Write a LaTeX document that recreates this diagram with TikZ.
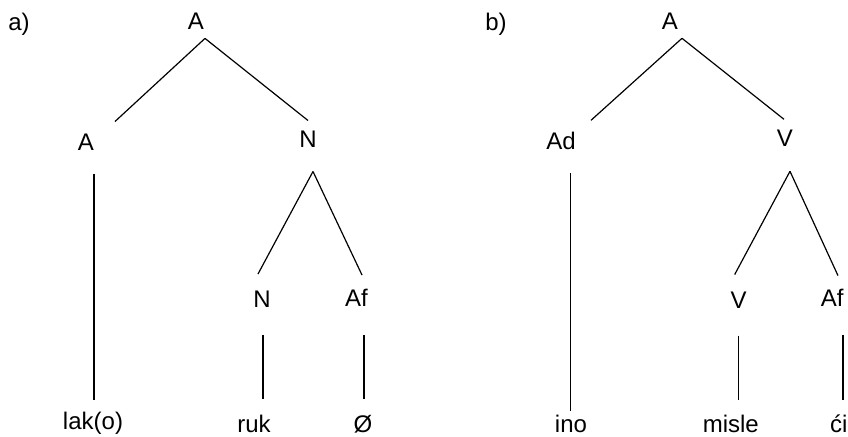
\documentclass[tikz,border=0pt]{standalone}
\usepackage{fontspec}
\setmainfont{Liberation Sans}
\usetikzlibrary{calc}
\tikzset{cat node/.style={font=\fontsize{12}{14}\selectfont,inner sep=0pt,text height=8.6pt,text depth=0pt},
leaf node/.style={cat node,anchor=base},
tree line/.style={line width=0.6pt}}

\begin{document}
\begin{tikzpicture}[x=0.5pt,y=-0.5pt]
\useasboundingbox (0,0) rectangle (848,436);
% a)
\node[cat node] (la) at (19,22) {a)};
\node[cat node] (ar) at (196,21) {A};
\node[cat node] (aa) at (86,141.5) {A};
\node[cat node] (an) at (308,138.5) {N};
\node[cat node] (an2) at (262,299) {N};
\node[cat node] (aaf) at (356.5,298) {Af};
\node[leaf node] (lako) at (93,429) {lak(o)};
\node[leaf node] (ruk) at (254,432) {ruk};
\node[leaf node] (null) at (363,432) {Ø};
\draw[tree line] ($(ar.south)+(9,8.4)$) -- ($(aa.north)+(29,-11)$);
\draw[tree line] ($(ar.south)+(9,8.4)$) -- ($(an.north)+(0,-9)$);
\draw[tree line] ($(aa.south)+(8,23)$) -- ($(lako.north)+(1,-11.8)$);
\draw[tree line] ($(an.south)+(5,24)$) -- ($(an2.north)+(-4,-16)$);
\draw[tree line] ($(an.south)+(5,24)$) -- ($(aaf.north)+(5.5,-14)$);
\draw[tree line] ($(an2.south)+(1,27)$) -- ($(ruk.north)+(9,-15)$);
\draw[tree line] ($(aaf.south)+(7.5,28)$) -- ($(null.north)+(1,-15)$);
% b)
\node[cat node] (lb) at (496,22) {b)};
\node[cat node] (br) at (670,21.3) {A};
\node[cat node] (bad) at (561,141.3) {Ad};
\node[cat node] (bv) at (785,138.3) {V};
\node[cat node] (bv2) at (738.7,299.5) {V};
\node[cat node] (baf) at (832.3,298) {Af};
\node[leaf node] (ino) at (571,432) {ino};
\node[leaf node] (misle) at (730.8,432) {misle};
\node[leaf node] (ci) at (838.7,432) {ći};
\draw[tree line] ($(br.south)+(12,8)$) -- ($(bad.north)+(30,-12)$);
\draw[tree line] ($(br.south)+(12,8)$) -- ($(bv.north)+(-1,-10)$);
\draw[tree line] ($(bad.south)+(9.5,23)$) -- ($(ino.north)+(-0.5,-3.8)$);
\draw[tree line] ($(bv.south)+(5,24)$) -- ($(bv2.north)+(-4,-16)$);
\draw[tree line] ($(bv.south)+(5,24)$) -- ($(baf.north)+(5.7,-13.4)$);
\draw[tree line] ($(bv2.south)+(0,27)$) -- ($(misle.north)+(7.9,-14.8)$);
\draw[tree line] ($(baf.south)+(10.7,28.4)$) -- ($(ci.north)+(4.3,-14.8)$);
\end{tikzpicture}
\end{document}
